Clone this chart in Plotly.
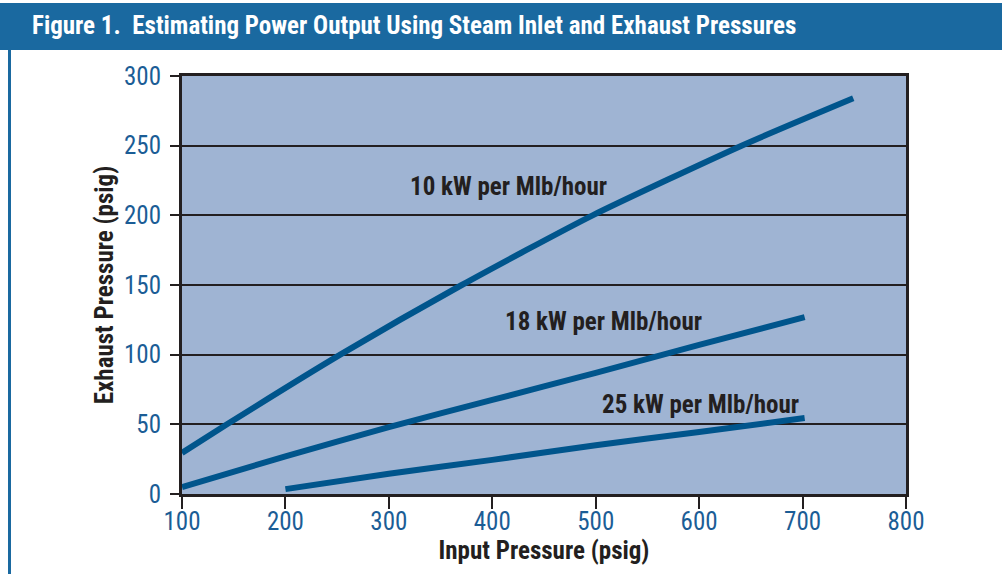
import plotly.graph_objects as go

# ---- data ----
x_10 = [100, 143.5, 253, 370.5, 497, 641, 749]
y_10 = [29.5, 50, 100, 150, 200, 250, 284]

x_18 = [100, 200, 300, 400, 500, 600, 702]
y_18 = [5, 27, 48, 67.5, 87, 107, 127]

x_25 = [200, 300, 400, 500, 600, 702]
y_25 = [3.5, 14.5, 24.5, 35, 44.5, 54.5]

labels = ["10 kW per Mlb/hour", "18 kW per Mlb/hour", "25 kW per Mlb/hour"]
label_x = [416, 508, 601]
label_y = [221, 124, 64.5]

x_ticks = [100, 200, 300, 400, 500, 600, 700, 800]
y_ticks = [0, 50, 100, 150, 200, 250, 300]

title = "Figure 1.  Estimating Power Output Using Steam Inlet and Exhaust Pressures"
x_title = "Input Pressure (psig)"
y_title = "Exhaust Pressure (psig)"

# ---- styling ----
W, H = 1002, 574
ML, MR, MT, MB = 182, 96, 76, 80
PW, PH = W - ML - MR, H - MT - MB
FONT = "Liberation Sans Narrow, Arial Narrow, Roboto Condensed, sans-serif"
LINE = "#00558c"
HEAD = "#1a69a0"
TICKC = "#1b5d96"
DARK = "#231f20"


def px(xp):
    return (xp - ML) / PW


def py(yp):
    return (H - MB - yp) / PH


fig = go.Figure()
for xs, ys in [(x_10, y_10), (x_18, y_18), (x_25, y_25)]:
    fig.add_trace(go.Scatter(x=xs, y=ys, mode="lines",
                             line=dict(color=LINE, width=6, shape="spline", smoothing=0.6),
                             hoverinfo="skip", showlegend=False))

for t, lx, ly in zip(labels, label_x, label_y):
    fig.add_annotation(x=lx, y=ly, text=t, showarrow=False, xref="x", yref="y",
                       font=dict(family=FONT, size=25, color=DARK, weight="bold"))

# header bar
fig.add_shape(type="rect", xref="paper", yref="paper",
              x0=px(0), x1=px(W), y0=py(50), y1=py(3),
              fillcolor=HEAD, line=dict(width=0), layer="below")
# left border line
fig.add_shape(type="line", xref="paper", yref="paper",
              x0=px(9.5), x1=px(9.5), y0=py(50), y1=py(H),
              line=dict(color=HEAD, width=3))

fig.add_annotation(x=px(30), y=py(26), xref="paper", yref="paper", text=title,
                   showarrow=False, xanchor="left", yanchor="middle",
                   font=dict(family=FONT, size=25, color="white", weight="bold"))

fig.update_layout(
    width=W, height=H,
    margin=dict(l=ML, r=MR, t=MT, b=MB),
    paper_bgcolor="white",
    plot_bgcolor="#9fb4d3",
    font=dict(family=FONT),
    xaxis=dict(range=[100, 800], tickvals=x_ticks, ticks="outside", ticklen=12,
               tickwidth=1.5, tickcolor=DARK, showgrid=False, zeroline=False,
               showline=True, linecolor=DARK, linewidth=3, mirror=True,
               tickfont=dict(family=FONT, size=25, color=TICKC), ticklabelstandoff=-9,
               title=dict(text=x_title, font=dict(family=FONT, size=25, color=DARK, weight="bold"),
                          standoff=0)),
    yaxis=dict(range=[0, 300], tickvals=y_ticks, ticks="outside", ticklen=9,
               tickwidth=1.5, tickcolor=DARK, showgrid=True, gridcolor=DARK, gridwidth=1.5,
               zeroline=False, showline=True, linecolor=DARK, linewidth=3, mirror=True,
               tickfont=dict(family=FONT, size=25, color=TICKC), ticklabelstandoff=4,
               title=dict(text=y_title, font=dict(family=FONT, size=25, color=DARK, weight="bold"),
                          standoff=4)),
)

fig.write_html("out.html", config={"displayModeBar": False},
               post_script="document.body.style.margin='0';")
